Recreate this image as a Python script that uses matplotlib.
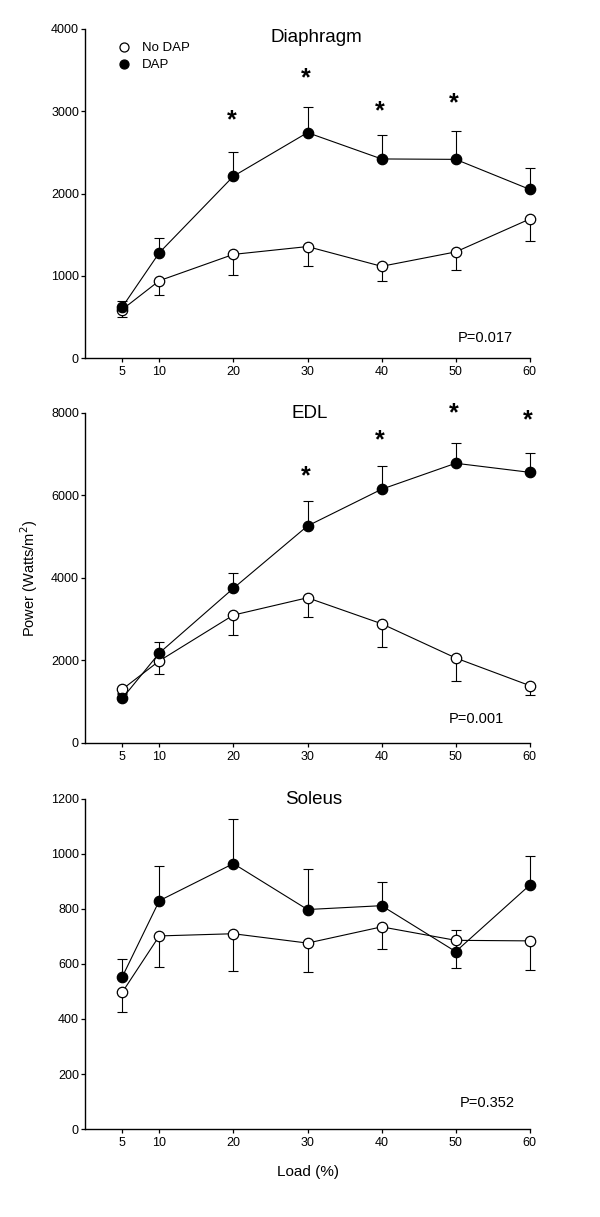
import numpy as np
import matplotlib
matplotlib.use('Agg')
import matplotlib.pyplot as plt
from matplotlib.lines import Line2D

plt.rcParams['font.family'] = ['Liberation Sans', 'DejaVu Sans']

# Load (%) values
load = [5, 10, 20, 30, 40, 50, 60]

# Diaphragm
dia_nodap = [590, 940, 1260, 1355, 1115, 1290, 1690]
dia_nodap_err = [95, 170, 250, 235, 175, 220, 270]
dia_dap = [620, 1280, 2210, 2740, 2420, 2415, 2050]
dia_dap_err = [70, 185, 300, 315, 290, 345, 260]
dia_star_x = [20, 30, 40, 50]
dia_star_y = [2976, 3490, 3093, 3190]

# EDL
edl_nodap = [1300, 1990, 3100, 3520, 2890, 2060, 1390]
edl_nodap_err = [80, 315, 480, 460, 565, 550, 220]
edl_dap = [1080, 2180, 3750, 5260, 6150, 6780, 6560]
edl_dap_err = [100, 275, 365, 600, 555, 500, 460]
edl_star_x = [30, 40, 50, 60]
edl_star_y = [6656, 7530, 8178, 8000]

# Soleus
sol_nodap = [497, 702, 710, 676, 735, 686, 684]
sol_nodap_err = [73, 112, 137, 106, 80, 99, 105]
sol_dap = [553, 830, 965, 798, 812, 645, 887]
sol_dap_err = [66, 126, 161, 149, 87, 80, 105]

panels = [
    dict(name='Diaphragm', nodap=dia_nodap, nodap_err=dia_nodap_err, dap=dia_dap, dap_err=dia_dap_err,
         sx=dia_star_x, sy=dia_star_y, ymax=4000, ystep=1000, p='P=0.017',
         rect=[0.142, 0.7058, 0.741, 0.2704], tpos=(0.52, 0.973), ppos=(0.90, 0.061)),
    dict(name='EDL', nodap=edl_nodap, nodap_err=edl_nodap_err, dap=edl_dap, dap_err=edl_dap_err,
         sx=edl_star_x, sy=edl_star_y, ymax=8000, ystep=2000, p='P=0.001',
         rect=[0.142, 0.3895, 0.741, 0.2712], tpos=(0.506, 0.997), ppos=(0.88, 0.073)),
    dict(name='Soleus', nodap=sol_nodap, nodap_err=sol_nodap_err, dap=sol_dap, dap_err=sol_dap_err,
         sx=[], sy=[], ymax=1200, ystep=200, p='P=0.352',
         rect=[0.142, 0.0723, 0.741, 0.2712], tpos=(0.513, 0.997), ppos=(0.905, 0.079)),
]

fig = plt.figure(figsize=(6.0, 12.17), dpi=100)

lw = 0.8
ms = 7.5
for i, pn in enumerate(panels):
    ax = fig.add_axes(pn['rect'])
    zeros = np.zeros(len(load))
    # error bars: No DAP downward, DAP upward
    for yv, ev, up in [(pn['nodap'], pn['nodap_err'], False), (pn['dap'], pn['dap_err'], True)]:
        yerr = [zeros, ev] if up else [ev, zeros]
        _, caps, bars = ax.errorbar(load, yv, yerr=yerr, fmt='none', ecolor='black',
                                    elinewidth=lw, capsize=3.3, capthick=lw, zorder=1)
        for c in caps:
            c.set_clip_on(False)
        for b in bars:
            b.set_clip_on(False)
    ax.plot(load, pn['nodap'], '-o', color='black', lw=lw, ms=ms,
            mfc='white', mec='black', mew=0.9, zorder=3, clip_on=False)
    ax.plot(load, pn['dap'], '-o', color='black', lw=lw, ms=ms,
            mfc='black', mec='black', mew=0.9, zorder=4, clip_on=False)

    for sx, sy in zip(pn['sx'], pn['sy']):
        ax.annotate('*', (sx, sy), xytext=(-1.5, -10.5), textcoords='offset points',
                    ha='center', va='baseline', fontsize=18, fontweight='bold',
                    annotation_clip=False)

    ax.text(pn['tpos'][0], pn['tpos'][1], pn['name'], transform=ax.transAxes,
            ha='center', va='center', fontsize=13.5)
    ax.text(pn['ppos'][0], pn['ppos'][1], pn['p'], transform=ax.transAxes,
            ha='center', va='center', fontsize=10.5)

    ax.set_xlim(0, 60)
    ax.set_ylim(0, pn['ymax'])
    ax.set_xticks(load)
    ax.set_yticks(np.arange(0, pn['ymax'] + 1, pn['ystep']))
    ax.spines['top'].set_visible(False)
    ax.spines['right'].set_visible(False)
    ax.spines['left'].set_linewidth(1.0)
    ax.spines['bottom'].set_linewidth(1.0)
    ax.tick_params(direction='out', length=3, width=0.9, labelsize=9)
    ax.tick_params(axis='y', pad=1.5)
    ax.tick_params(axis='x', pad=3)

    if i == 0:
        handles = [Line2D([], [], ls='none', marker='o', ms=6.5, mfc='white', mec='black', mew=0.9),
                   Line2D([], [], ls='none', marker='o', ms=6.5, mfc='black', mec='black', mew=0.9)]
        ax.legend(handles, ['No DAP', 'DAP'], loc='upper left', bbox_to_anchor=(0.051, 0.988),
                  frameon=False, fontsize=9.5, handletextpad=0.9, labelspacing=0.35,
                  handlelength=1.0, borderaxespad=0.3)

fig.text(0.048, 0.525, 'Power (Watts/m$^2$)', rotation=90, ha='center', va='center', fontsize=10.5)
fig.text(0.513, 0.037, 'Load (%)', ha='center', va='center', fontsize=11)

fig.savefig('out.png', dpi=100, facecolor='white')
